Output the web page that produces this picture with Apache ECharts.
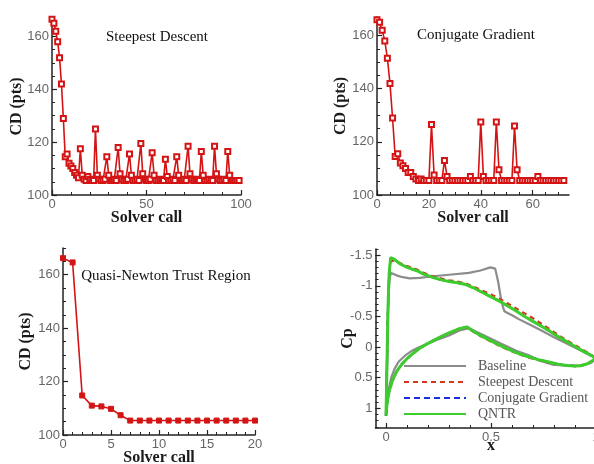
<!DOCTYPE html>
<html><head><meta charset="utf-8">
<script src="https://cdn.jsdelivr.net/npm/echarts@6/dist/echarts.min.js"></script>
<style>html,body{margin:0;padding:0;background:#fff}#c{width:594px;height:464px}</style>
</head><body><div id="c"></div>
<script>
// ---- Steepest Descent history (CD in counts, one value per solver call 0..99)
const sdCD = [166.5,165,162,158,152,142,129,114.5,115.5,112,
  111,110,108.5,107.5,106.5,117.5,107.5,106,105.5,107,
  106,105.5,105.5,125,107.5,106,105.5,105.5,106,114.5,
  107.5,105.5,105.5,106,105.5,118,108,106,105.5,105.5,
  106,115.5,107.5,105.5,105.5,106,105.5,119.5,108,106,
  105.5,105.5,106,116,107.5,105.5,105.5,106,105.5,105.5,
  113.5,107,105.5,105.5,106,105.5,114.5,107.5,105.5,105.5,
  106,105.5,118.5,108,106,105.5,105.5,106,105.5,116.5,
  107.5,105.5,105.5,106,105.5,105.5,118.5,108,106,105.5,
  105.5,106,105.5,116.5,107.5,105.5,105.5,105.5,105.5,105.5];
// ---- Conjugate Gradient history (solver calls 0..72)
const cgCD = [166,165,162,158,151.5,142,129,114.5,115.5,112,
  111,110,108.5,108.5,107,106,105.5,106,105.5,105.5,
  105.5,126.5,107.5,105.5,105.5,105.5,113,107,105.5,105.5,
  105.5,105.5,105.5,105.5,105.5,105.5,107,105.5,105.5,105.5,
  127.5,107,105.5,105.5,105.5,105.5,127.5,109.5,105.5,105.5,
  105.5,105.5,105.5,126,109.5,105.5,105.5,105.5,105.5,105.5,
  105.5,105.5,107,105.5,105.5,105.5,105.5,105.5,105.5,105.5,
  105.5,105.5,105.5];
// ---- Quasi-Newton Trust Region history (solver calls 0..20)
const qnCD = [166.2,164.6,114.8,111,110.7,109.8,107.4,105.4,105.4,105.4,
  105.4,105.4,105.4,105.4,105.4,105.4,105.4,105.4,105.4,105.4,105.4];

// ---- Pressure distributions (x/c, Cp) : upper surface LE->TE then lower surface TE->LE
const baseX  = [0.000,0.004,0.008,0.012,0.018,0.025,0.050,0.080,0.113,0.160,0.238,0.300,0.395,0.450,0.497,0.520,0.535,0.548,0.558,0.565,0.600,0.630,0.700,0.740,0.800,0.865,0.930,0.975,1.000,
  0.980,0.930,0.860,0.800,0.740,0.677,0.620,0.552,0.480,0.430,0.395,0.350,0.300,0.238,0.160,0.128,0.090,0.060,0.040,0.025,0.012,0.004,0.000];
const baseCp = [1.12,0.50,-0.30,-0.90,-1.15,-1.21,-1.17,-1.14,-1.12,-1.13,-1.16,-1.18,-1.21,-1.25,-1.30,-1.28,-1.05,-0.78,-0.64,-0.58,-0.52,-0.46,-0.34,-0.27,-0.16,-0.05,0.06,0.14,0.17,
  0.25,0.31,0.30,0.29,0.23,0.13,0.06,-0.05,-0.17,-0.25,-0.31,-0.27,-0.19,-0.11,0.00,0.05,0.14,0.24,0.36,0.50,0.70,0.95,1.12];
const optX   = [0.000,0.003,0.006,0.010,0.015,0.022,0.040,0.066,0.100,0.144,0.180,0.220,0.260,0.300,0.340,0.380,0.420,0.460,0.500,0.540,0.580,0.620,0.660,0.700,0.740,0.780,0.820,0.860,0.900,0.940,0.970,0.990,1.000,
  0.985,0.960,0.930,0.900,0.860,0.820,0.770,0.720,0.670,0.620,0.560,0.500,0.450,0.410,0.385,0.350,0.300,0.250,0.200,0.160,0.130,0.100,0.075,0.050,0.030,0.015,0.005,0.000];
const sdCp   = [1.12,0.60,0.00,-0.70,-1.18,-1.40,-1.41,-1.37,-1.32,-1.27,-1.21,-1.16,-1.12,-1.09,-1.07,-1.04,-0.98,-0.92,-0.86,-0.79,-0.71,-0.63,-0.55,-0.47,-0.38,-0.29,-0.20,-0.11,-0.03,0.05,0.11,0.16,0.17,
  0.22,0.27,0.30,0.31,0.30,0.28,0.25,0.21,0.16,0.10,0.01,-0.09,-0.18,-0.26,-0.32,-0.30,-0.23,-0.15,-0.06,0.02,0.10,0.19,0.28,0.40,0.55,0.72,0.92,1.12];
const cgCp   = [1.12,0.60,0.00,-0.70,-1.20,-1.45,-1.43,-1.36,-1.30,-1.25,-1.19,-1.14,-1.10,-1.07,-1.05,-1.02,-0.96,-0.89,-0.82,-0.75,-0.67,-0.59,-0.50,-0.42,-0.34,-0.26,-0.17,-0.09,-0.01,0.07,0.12,0.16,0.17,
  0.22,0.27,0.30,0.31,0.30,0.28,0.24,0.20,0.15,0.09,0.00,-0.10,-0.19,-0.27,-0.33,-0.30,-0.23,-0.15,-0.06,0.02,0.10,0.19,0.28,0.40,0.55,0.72,0.92,1.12];
const qnCp   = [1.12,0.60,0.00,-0.70,-1.20,-1.46,-1.43,-1.36,-1.30,-1.25,-1.19,-1.14,-1.10,-1.07,-1.05,-1.02,-0.96,-0.89,-0.82,-0.75,-0.67,-0.59,-0.50,-0.42,-0.34,-0.26,-0.17,-0.09,-0.01,0.07,0.12,0.16,0.17,
  0.22,0.27,0.30,0.31,0.30,0.28,0.24,0.20,0.15,0.09,0.00,-0.10,-0.19,-0.27,-0.33,-0.30,-0.23,-0.15,-0.06,0.02,0.10,0.19,0.28,0.40,0.55,0.72,0.92,1.12];

// ---- tick labels
const tlXTicks = [0,50,100], tlYTicks = [100,120,140,160];
const trXTicks = [0,20,40,60], trYTicks = [100,120,140,160];
const blXTicks = [0,5,10,15,20], blYTicks = [100,120,140,160];
const brXTicks = [0,0.5,1], brYTicks = [-1.5,-1,-0.5,0,0.5,1];
const legendNames = ['Baseline','Steepest Descent','Conjugate Gradient','QNTR'];
const titles = ['Steepest Descent','Conjugate Gradient','Quasi-Newton Trust Region'];

function steps(a,b,s){const r=[];for(let k=0;;k++){const v=Math.round((a+k*s)*1000)/1000;if(v>b+1e-9)break;r.push(v);}return r;}
const zip=(xs,ys)=>xs.map((x,i)=>[x,ys[i]]);
const idx=(ys)=>ys.map((y,i)=>[i,y]);

const AXC='#222', LBL='#666';
const nameStyle={fontFamily:'Liberation Serif',fontWeight:'bold',fontSize:16,color:'#1a1a1a'};
const xAxes=[], yAxes=[];
function addAxis(list,dim,g,min,max,majors,minors,extra){
  const pos=dim==='x'?'bottom':'left';
  const i=list.length;
  const inv=!!(extra&&extra.inverse);
  list.push(Object.assign({type:'value',gridIndex:g,min:min,max:max,position:pos,
    axisLine:{show:true,onZero:false,lineStyle:{color:AXC,width:1.5}},
    axisTick:{show:true,inside:true,length:5,customValues:majors,lineStyle:{color:AXC,width:1.2}},
    axisLabel:{customValues:majors,margin:3,color:LBL,fontSize:13,fontFamily:'Liberation Sans'},
    splitLine:{show:false},nameLocation:'middle',nameMoveOverlap:false,nameTextStyle:nameStyle},extra||{}));
  list.push({type:'value',gridIndex:g,min:min,max:max,position:pos,inverse:inv,
    axisLine:{show:false,onZero:false},
    axisTick:{show:true,inside:true,length:3,customValues:minors,lineStyle:{color:AXC,width:1}},
    axisLabel:{show:false},splitLine:{show:false}});
  return i;
}
const grids=[
  {left:52,top:18,width:189,height:177},
  {left:377,top:17,width:192,height:178},
  {left:63,top:248,width:192,height:187},
  {left:375.5,top:249,width:231,height:179}
].map(g=>Object.assign(g,{containLabel:false,outerBoundsMode:'none'}));

const x0=addAxis(xAxes,'x',0,0,100,tlXTicks,steps(0,100,10),{name:'Solver call',nameGap:15});
const y0=addAxis(yAxes,'y',0,100,167,tlYTicks,steps(100,165,5),{name:'CD (pts)',nameGap:27});
const x1=addAxis(xAxes,'x',1,0,74,trXTicks,steps(0,70,5),{name:'Solver call',nameGap:15});
const y1=addAxis(yAxes,'y',1,100,167,trYTicks,steps(100,165,5),{name:'CD (pts)',nameGap:28});
const x2=addAxis(xAxes,'x',2,0,20,blXTicks,steps(0,20,1),{name:'Solver call',nameGap:15});
const y2=addAxis(yAxes,'y',2,100,170,blYTicks,steps(100,170,5),{name:'CD (pts)',nameGap:29});
const x3=addAxis(xAxes,'x',3,-0.05,1.05,brXTicks,steps(0,1,0.1),{name:'x',nameGap:10});
const y3=addAxis(yAxes,'y',3,-1.6,1.32,brYTicks,steps(-1.6,1.3,0.1),{name:'Cp',nameGap:20,inverse:true});

const RED='#d41414';
const histLine=(name,xi,yi,data,sym)=>({type:'line',name:name,xAxisIndex:xi,yAxisIndex:yi,data:data,
  symbol:sym,symbolSize:5,showSymbol:true,lineStyle:{color:RED,width:1.6},itemStyle:{color:RED,borderColor:RED,borderWidth:1},silent:true});

const series=[
  histLine('sd-history',x0,y0,idx(sdCD),'emptyRect'),
  histLine('cg-history',x1,y1,idx(cgCD),'emptyRect'),
  histLine('qn-history',x2,y2,idx(qnCD),'rect'),
  {type:'line',name:'Baseline',xAxisIndex:x3,yAxisIndex:y3,data:zip(baseX,baseCp),symbol:'none',
   lineStyle:{color:'#8c8c8c',width:2.2},itemStyle:{color:'#8c8c8c'},z:2},
  {type:'line',name:'Steepest Descent',xAxisIndex:x3,yAxisIndex:y3,data:zip(optX,sdCp),symbol:'none',
   lineStyle:{color:'#d23a1a',width:2.2,type:[5,4]},itemStyle:{color:'#d23a1a'},z:3},
  {type:'line',name:'Conjugate Gradient',xAxisIndex:x3,yAxisIndex:y3,data:zip(optX,cgCp),symbol:'none',
   lineStyle:{color:'#1a2ee0',width:2.2,type:[6,4]},itemStyle:{color:'#1a2ee0'},z:4},
  {type:'line',name:'QNTR',xAxisIndex:x3,yAxisIndex:y3,data:zip(optX,qnCp),symbol:'none',
   lineStyle:{color:'#3ccc2c',width:3},itemStyle:{color:'#3ccc2c'},z:5}
];

const titleFont='15px "Liberation Serif"';
const option={
  animation:false,
  backgroundColor:'#fff',
  grid:grids,
  xAxis:xAxes,
  yAxis:yAxes,
  legend:{data:legendNames,orient:'vertical',left:403,top:359,padding:0,itemWidth:62,itemHeight:10,itemGap:2,
    selectedMode:false,itemStyle:{opacity:0},
    textStyle:{fontFamily:'Liberation Serif',fontSize:14,color:'#555',padding:[0,0,0,7]}},
  graphic:[
    {type:'text',x:157,y:37,style:{text:titles[0],font:titleFont,fill:'#111',align:'center',verticalAlign:'middle'}},
    {type:'text',x:476,y:35,style:{text:titles[1],font:titleFont,fill:'#111',align:'center',verticalAlign:'middle'}},
    {type:'text',x:166,y:276,style:{text:titles[2],font:titleFont,fill:'#111',align:'center',verticalAlign:'middle'}}
  ],
  series:series
};
echarts.init(document.getElementById('c'),null,{renderer:'canvas'}).setOption(option);
</script></body></html>
